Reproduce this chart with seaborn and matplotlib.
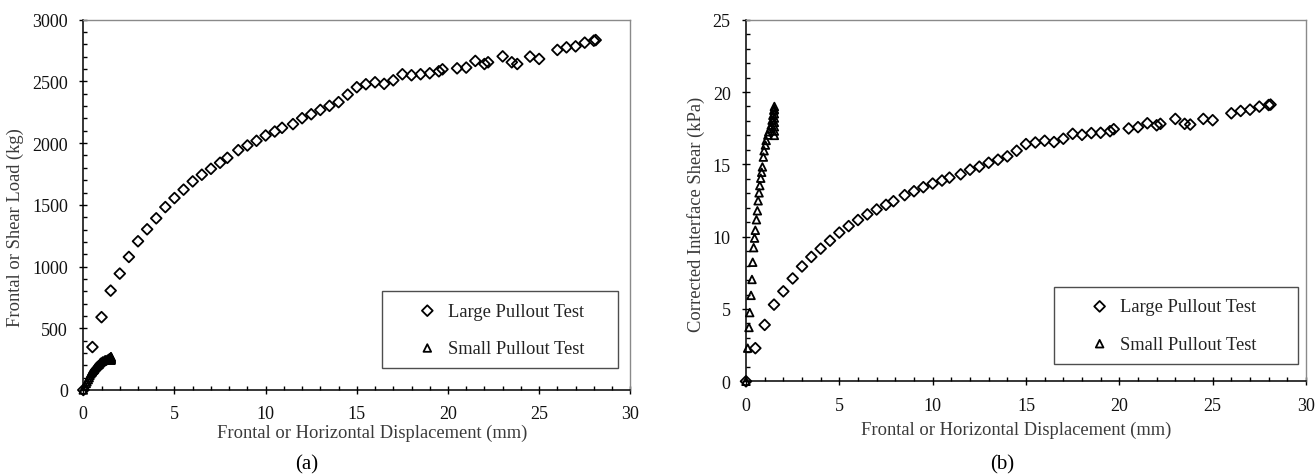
import numpy as np
import pandas as pd
import matplotlib
matplotlib.use("Agg")
import matplotlib.pyplot as plt
from matplotlib.ticker import MultipleLocator
import seaborn as sns

# ---------------- data ----------------
large_disp = [0, 0.5, 1.0, 1.5, 2.0, 2.5, 3.0, 3.5, 4.0, 4.5,
              5.0, 5.5, 6.0, 6.5, 7.0, 7.5, 7.9, 8.5, 9.0, 9.5,
              10.0, 10.5, 10.9, 11.5, 12.0, 12.5, 13.0, 13.5, 14.0, 14.5,
              15.0, 15.5, 16.0, 16.5, 17.0, 17.5, 18.0, 18.5, 19.0, 19.5,
              19.7, 20.5, 21.0, 21.5, 22.0, 22.2, 23.0, 23.5, 23.8, 24.5,
              25.0, 26.0, 26.5, 27.0, 27.5, 28.0, 28.1]
large_load = [0, 348, 590, 805, 943, 1078, 1205, 1302, 1391, 1482,
              1555, 1623, 1690, 1744, 1792, 1841, 1881, 1943, 1981, 2019,
              2062, 2094, 2124, 2154, 2202, 2234, 2269, 2302, 2332, 2393,
              2453, 2477, 2493, 2480, 2509, 2558, 2550, 2558, 2566, 2582,
              2598, 2606, 2612, 2666, 2641, 2655, 2703, 2655, 2641, 2701,
              2682, 2755, 2776, 2784, 2814, 2830, 2835]
large_shear = [0, 2.29, 3.90, 5.30, 6.22, 7.11, 7.94, 8.60, 9.17, 9.72,
               10.28, 10.73, 11.15, 11.54, 11.88, 12.20, 12.45, 12.87, 13.14, 13.42,
               13.67, 13.88, 14.08, 14.31, 14.63, 14.84, 15.11, 15.32, 15.55, 15.94,
               16.40, 16.51, 16.63, 16.54, 16.77, 17.11, 17.04, 17.16, 17.18, 17.29,
               17.43, 17.48, 17.57, 17.84, 17.70, 17.80, 18.14, 17.80, 17.75, 18.14,
               18.05, 18.53, 18.69, 18.78, 18.99, 19.10, 19.13]

small_disp = [0, 0.09, 0.16, 0.20, 0.27, 0.32, 0.36, 0.41, 0.46, 0.50,
              0.56, 0.61, 0.65, 0.70, 0.74, 0.79, 0.84, 0.88, 0.93, 0.97,
              1.04, 1.08, 1.17, 1.22, 1.31, 1.35, 1.40, 1.44, 1.49, 1.52,
              1.52, 1.52, 1.52, 1.52, 1.52, 1.52, 1.52]
small_load = [0, 33, 53, 67, 84, 100, 117, 131, 141, 148,
              159, 167, 177, 185, 192, 199, 205, 210, 220, 226,
              232, 236, 242, 245, 248, 251, 256, 261, 266, 270,
              267, 263, 258, 254, 250, 246, 241]
small_shear = [0, 2.29, 3.72, 4.75, 5.94, 7.04, 8.23, 9.24, 9.90, 10.44,
               11.17, 11.79, 12.48, 13.03, 13.53, 14.04, 14.45, 14.82, 15.50, 15.94,
               16.33, 16.65, 17.02, 17.25, 17.48, 17.71, 18.05, 18.39, 18.74, 19.00,
               18.80, 18.50, 18.20, 17.90, 17.60, 17.30, 17.00]

series_names = ["Large Pullout Test", "Small Pullout Test"]
x_label = "Frontal or Horizontal Displacement (mm)"
y_labels = ["Frontal or Shear Load (kg)", "Corrected Interface Shear (kPa)"]
panel_tags = ["(a)", "(b)"]

# ---------------- style ----------------
sns.set_theme(style="white")
plt.rcParams["font.family"] = ["Liberation Serif", "DejaVu Serif"]

FS = 13.3
TICK_FS = 13.0
LABEL_C = "#3a3a3a"

fig = plt.figure(figsize=(13.15, 4.77), dpi=100)
axA = fig.add_axes([83.3 / 1315, 1 - 391 / 477, 547 / 1315, 370.3 / 477])
axB = fig.add_axes([746 / 1315, 1 - 382.3 / 477, 560 / 1315, 361.6 / 477])

df_a = pd.concat([
    pd.DataFrame({"x": large_disp, "y": large_load, "Test": series_names[0]}),
    pd.DataFrame({"x": small_disp, "y": small_load, "Test": series_names[1]}),
])
df_b = pd.concat([
    pd.DataFrame({"x": large_disp, "y": large_shear, "Test": series_names[0]}),
    pd.DataFrame({"x": small_disp, "y": small_shear, "Test": series_names[1]}),
])

marker_map = {series_names[0]: "D", series_names[1]: "^"}
size_map = {series_names[0]: 30, series_names[1]: 30}


def draw(ax, df, ylim, ymajor, yminor, ylabel, xlab_xy, ylab_xy, leg_box):
    for name in series_names:
        sub = df[df["Test"] == name]
        sns.scatterplot(data=sub, x="x", y="y", ax=ax, marker=marker_map[name],
                        s=size_map[name], facecolor="none", edgecolor="black",
                        linewidth=1.3, label=name, zorder=3, clip_on=False)
    ax.set_xlim(0, 30)
    ax.set_ylim(*ylim)
    ax.xaxis.set_major_locator(MultipleLocator(5))
    ax.xaxis.set_minor_locator(MultipleLocator(1))
    ax.yaxis.set_major_locator(MultipleLocator(ymajor))
    ax.yaxis.set_minor_locator(MultipleLocator(yminor))
    ax.tick_params(which="major", direction="inout", length=6, width=1.0,
                   color="black", labelsize=TICK_FS, labelcolor="#111111")
    ax.tick_params(axis="y", which="major", pad=8)
    ax.tick_params(axis="x", which="major", pad=8)
    ax.tick_params(which="minor", direction="in", length=3.2, width=1.0, color="black")
    ax.tick_params(axis="x", which="both", bottom=True, top=False)
    ax.tick_params(axis="y", which="both", left=True, right=False)
    for side in ["left", "bottom"]:
        ax.spines[side].set_color("black")
        ax.spines[side].set_linewidth(1.1)
    for side in ["top", "right"]:
        ax.spines[side].set_color("#8a8a8a")
        ax.spines[side].set_linewidth(1.0)
    ax.set_xlabel(x_label, fontsize=FS, color=LABEL_C)
    ax.set_ylabel(ylabel, fontsize=FS, color=LABEL_C)
    ax.xaxis.set_label_coords(*xlab_xy)
    ax.xaxis.label.set_va("center")
    ax.yaxis.set_label_coords(*ylab_xy)
    ax.yaxis.label.set_va("center")
    leg = ax.legend(loc="lower left", bbox_to_anchor=leg_box, mode="expand",
                    frameon=True, fancybox=False, fontsize=FS,
                    borderpad=0.62, labelspacing=1.1, handlelength=3.7,
                    handletextpad=-0.75, borderaxespad=0)
    leg.get_frame().set_edgecolor("#222222")
    leg.get_frame().set_linewidth(1.0)
    for t in leg.get_texts():
        t.set_color("#222222")


draw(axA, df_a, (0, 3000), 500, 100, y_labels[0],
     (0.5278, -0.1142), (-0.1234, 0.4415),
     (0.5455, 0.0586, 0.4325, 0.2095))
draw(axB, df_b, (0, 25), 5, 1, y_labels[1],
     (0.482, -0.132), (-0.0895, 0.4654),
     (0.55, 0.0478, 0.4352, 0.2166))

fig.text(306.8 / 1315, 1 - 465 / 477, panel_tags[0], fontsize=15,
         ha="center", va="center", color="black")
fig.text(1002.6 / 1315, 1 - 465 / 477, panel_tags[1], fontsize=15,
         ha="center", va="center", color="black")

fig.savefig("out.png", dpi=100, facecolor="white")
